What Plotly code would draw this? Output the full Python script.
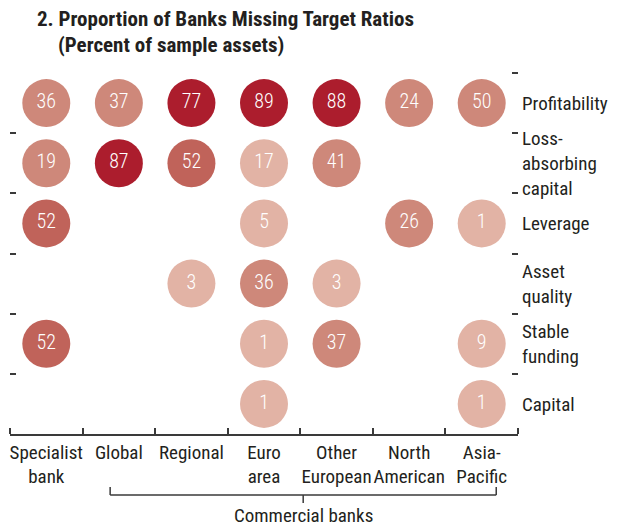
import plotly.graph_objects as go

# ---- data ----
columns = ["Specialist bank", "Global", "Regional", "Euro area",
           "Other European", "North American", "Asia-Pacific"]
column_labels = ["Specialist<br>bank", "Global", "Regional", "Euro<br>area",
                 "Other<br>European", "North<br>American", "Asia-<br>Pacific"]
rows = ["Profitability", "Loss-absorbing capital", "Leverage",
        "Asset quality", "Stable funding", "Capital"]
row_labels = ["Profitability", "Loss-<br>absorbing<br>capital", "Leverage",
              "Asset<br>quality", "Stable<br>funding", "Capital"]

profitability = [36, 37, 77, 89, 88, 24, 50]
loss_absorbing_capital = [19, 87, 52, 17, 41, None, None]
leverage = [52, None, None, 5, None, 26, 1]
asset_quality = [None, None, 3, 36, 3, None, None]
stable_funding = [52, None, None, 1, 37, None, 9]
capital = [None, None, None, 1, None, None, 1]

series = [profitability, loss_absorbing_capital, leverage,
          asset_quality, stable_funding, capital]

title_lines = ["2. Proportion of Banks Missing Target Ratios",
               "(Percent of sample assets)"]
group_label = "Commercial banks"

# colour bins (upper bound, colour)
bins = [(18, "#E2B3A5"), (51, "#CE887A"), (76, "#C0635A"), (101, "#AC1D2D")]


def colour(v):
    for ub, c in bins:
        if v < ub:
            return c
    return bins[-1][1]


xs, ys, vals, cols = [], [], [], []
for r, vals_row in enumerate(series):
    for c, v in enumerate(vals_row):
        if v is None:
            continue
        xs.append(c)
        ys.append(r)
        vals.append(v)
        cols.append(colour(v))

FONT = "Roboto Condensed, Liberation Sans Narrow, DejaVu Sans Condensed, sans-serif"
TXT = "#231F20"
AX = "#3a3a3a"

# page has an 8px body margin: figure is sized/offset to compensate
OFF = 8
W, H = 623 - OFF, 529 - OFF
L, R, T, B = 10 - OFF, 105, 73 - OFF, 95
PW, PH = W - L - R, H - T - B

fig = go.Figure()
fig.add_trace(go.Scatter(
    x=xs, y=ys, mode="markers+text",
    marker=dict(size=48, color=cols, line=dict(width=0)),
    text=[str(v) for v in vals],
    textposition="middle center",
    textfont=dict(color="white", size=20, family=FONT, weight=300),
    hoverinfo="skip", showlegend=False, cliponaxis=False,
))

n_c = len(columns)
n_r = len(rows)
col_bounds = [i - 0.5 for i in range(n_c + 1)]
row_bounds = [i - 0.5 for i in range(n_r)]

fig.update_layout(
    width=W, height=H,
    margin=dict(l=L, r=R, t=T, b=B),
    paper_bgcolor="white", plot_bgcolor="white",
    font=dict(family=FONT, color=TXT, size=19),
    xaxis=dict(
        range=[-0.5, n_c - 0.5], tickmode="array",
        tickvals=list(range(n_c)), ticktext=column_labels, tickangle=0,
        ticks="", showgrid=False, zeroline=False, automargin=False,
        showline=True, linecolor=AX, linewidth=1.5,
        tickfont=dict(size=19, color=TXT, family=FONT),
        minor=dict(tickmode="array", tickvals=col_bounds, ticks="inside",
                   ticklen=6, tickwidth=1.5, tickcolor=AX, showgrid=False),
    ),
    yaxis=dict(
        range=[n_r - 0.5, -0.5], tickmode="array",
        tickvals=row_bounds, ticks="inside", ticklen=6, tickwidth=1.5,
        tickcolor=AX, showticklabels=False, showgrid=False, automargin=False,
        zeroline=False, showline=False,
    ),
    yaxis2=dict(
        overlaying="y", side="right", anchor="x",
        range=[n_r - 0.5, -0.5], tickmode="array",
        tickvals=list(range(n_r)), ticktext=row_labels,
        ticks="", showgrid=False, zeroline=False, showline=False,
        automargin=False, ticklabelstandoff=3,
        tickfont=dict(size=19, color=TXT, family=FONT),
        minor=dict(tickmode="array", tickvals=row_bounds, ticks="inside",
                   ticklen=6, tickwidth=1.5, tickcolor=AX, showgrid=False),
    ),
)

# dummy trace to activate yaxis2
fig.add_trace(go.Scatter(x=[None], y=[None], yaxis="y2", showlegend=False,
                         hoverinfo="skip"))


def px_x(p):
    return (p - OFF - L) / PW


def px_y(p):
    return (H - B - (p - OFF)) / PH


# title (two lines, second indented)
for txt, x0, y0 in [(title_lines[0], 35, 19), (title_lines[1], 56, 45)]:
    fig.add_annotation(text="<b>" + txt + "</b>", xref="paper", yref="paper",
                       x=px_x(x0), y=px_y(y0),
                       xanchor="left", yanchor="middle", showarrow=False,
                       font=dict(size=21, color=TXT, family=FONT))

# Commercial banks bracket
bx0, bx1 = 0.88, 6.2
bmid = (bx0 + bx1) / 2
yb = px_y(495)
line = dict(color=AX, width=1.5)
fig.add_shape(type="line", xref="x", yref="paper", x0=bx0, x1=bx1, y0=yb, y1=yb, line=line)
fig.add_shape(type="line", xref="x", yref="paper", x0=bx0, x1=bx0, y0=yb, y1=px_y(487), line=line)
fig.add_shape(type="line", xref="x", yref="paper", x0=bx1, x1=bx1, y0=yb, y1=px_y(487), line=line)
fig.add_shape(type="line", xref="x", yref="paper", x0=bmid, x1=bmid, y0=yb, y1=px_y(503), line=line)
fig.add_annotation(text=group_label, xref="x", yref="paper", x=bmid, y=px_y(515),
                   showarrow=False, font=dict(size=19, color=TXT, family=FONT),
                   xanchor="center", yanchor="middle")

fig.write_html("out.html")
